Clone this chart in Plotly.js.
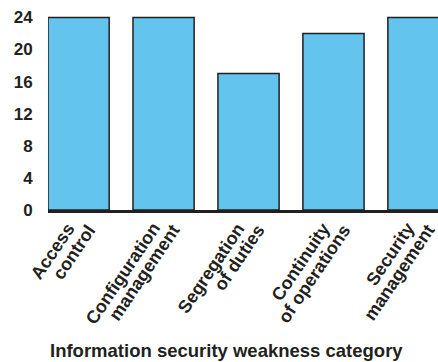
<!DOCTYPE html>
<html>
<head>
<meta charset="utf-8">
<script src="https://cdn.plot.ly/plotly-3.0.1.min.js"></script>
<style>
  html, body { margin: 0; padding: 0; background: #fff; }
  #chart { width: 438px; height: 362px; }
</style>
</head>
<body>
<div id="chart"></div>
<script>
// Weakness categories (two-line labels) and counts per category
const categories = [
  "Access<br>control",
  "Configuration<br>management",
  "Segregation<br>of duties",
  "Continuity<br>of operations",
  "Security<br>management"
];
const counts = [24, 24, 17, 22, 24];
const yTicks = [0, 4, 8, 12, 16, 20, 24];
const xTitle = "Information security weakness category";

const ink = "#231f20";
const font = "Liberation Sans, Arial, Helvetica, sans-serif";
const labelFont = { family: font, size: 18, color: ink, weight: "bold" };

// Slanted category labels: each line is placed on its own so the
// line spacing and the staggered line ends can be set exactly.
const lineShifts = [
  { dx: 3, dy: -6.5 },
  { dx: 23.5, dy: -8 }
];
const labelAnnotations = [];
categories.forEach(function (cat) {
  cat.split("<br>").forEach(function (line, i) {
    labelAnnotations.push({
      text: line,
      x: cat, xref: "x",
      y: 0, yref: "paper",
      xanchor: "right", yanchor: "top",
      xshift: lineShifts[i].dx, yshift: lineShifts[i].dy,
      textangle: -56,
      showarrow: false,
      font: labelFont
    });
  });
});

const trace = {
  type: "bar",
  x: categories,
  y: counts,
  marker: { color: "#63c5ee", line: { color: ink, width: 1.5 } },
  hoverinfo: "skip"
};

const layout = {
  width: 438,
  height: 362,
  margin: { l: 48, r: 0, t: 15, b: 152 },
  paper_bgcolor: "#ffffff",
  plot_bgcolor: "#ffffff",
  bargap: 0.28,
  showlegend: false,
  font: { family: font, color: ink },
  xaxis: {
    type: "category",
    range: [-0.36, 4.23],
    showgrid: false,
    zeroline: false,
    showline: true,
    linecolor: ink,
    linewidth: 3,
    ticks: "",
    showticklabels: false
  },
  yaxis: {
    range: [0, 24.3],
    tickvals: yTicks,
    ticktext: yTicks.map(String),
    showgrid: false,
    zeroline: false,
    showline: false,
    ticks: "outside",
    ticklen: 11,
    tickcolor: "rgba(0,0,0,0)",
    tickfont: { family: font, size: 17, color: ink, weight: "bold" }
  },
  annotations: labelAnnotations.concat([{
    text: xTitle,
    xref: "paper", yref: "paper",
    x: 0, xshift: 178, xanchor: "center",
    y: 0, yshift: -140, yanchor: "middle",
    showarrow: false,
    font: { family: font, size: 18.5, color: ink, weight: "bold" }
  }])
};

Plotly.newPlot("chart", [trace], layout, { displayModeBar: false, staticPlot: true });
</script>
</body>
</html>
